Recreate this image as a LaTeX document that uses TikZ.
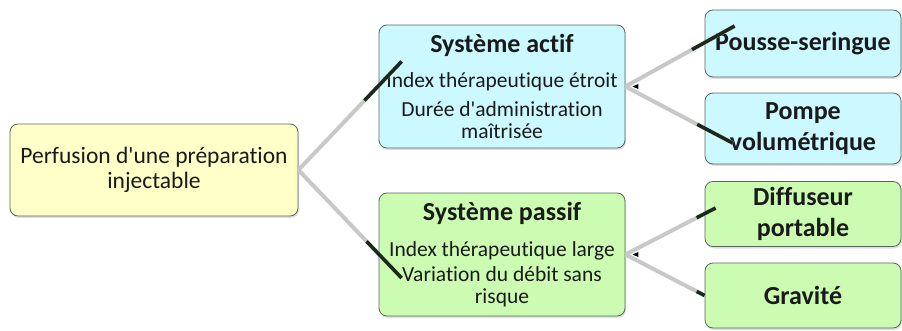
\documentclass[tikz,border=0pt]{standalone}
\usepackage{fontspec}
\setmainfont{Carlito}[Ligatures={TeXOff,NoCommon}]
\usepackage{xcolor}
\usetikzlibrary{positioning,calc,shadows}
\definecolor{rootfill}{HTML}{FFFFC8}
\definecolor{actfill}{HTML}{CCF8FF}
\definecolor{pasfill}{HTML}{CCFCB2}
\definecolor{boxline}{HTML}{56685C}
\definecolor{linkgray}{HTML}{C8C8C8}
\definecolor{tipdark}{HTML}{1A2A1A}
\definecolor{inkdark}{HTML}{1A1A1A}

\begin{document}
\begin{tikzpicture}[x=1pt,y=-1pt,
	box/.style={draw=boxline, line width=0.8pt, rounded corners=8pt, align=center, text=inkdark, inner sep=0pt,
		drop shadow={shadow xshift=1pt, shadow yshift=-2pt, opacity=0.25}},
	subbox/.style={box, minimum width=246pt, minimum height=123pt, font=\fontsize{21.5}{22}\selectfont},
	leafbox/.style={box, minimum width=196pt, font=\bfseries\fontsize{26}{31}\selectfont},
	link/.style={draw=linkgray, line width=4pt},
	linktip/.style={draw=tipdark, line width=3.5pt}]
	
	\useasboundingbox (0,0) rectangle (902,331);
	
	\node[box, fill=rootfill, minimum width=288pt, minimum height=92pt, font=\fontsize{23.5}{25}\selectfont] (root) at (154,170) {Perfusion d'une préparation\\injectable};
	
	\node[subbox, fill=actfill] (actif) at (502,86.5) {{\bfseries\fontsize{26}{30}\selectfont Système actif}\\[13pt]
		Index thérapeutique étroit\\[7pt]
		Durée d'administration\\maîtrisée};
	\node[subbox, fill=pasfill] (passif) at (502,254.5) {{\bfseries\fontsize{26}{30}\selectfont Système passif}\\[14pt]
		Index thérapeutique large\\[3pt]
		Variation du débit sans\\risque};
	
	\node[leafbox, fill=actfill, minimum height=67pt] (seringue) at (803,43.5) {Pousse-seringue};
	\node[leafbox, fill=actfill, minimum height=71pt] (pompe) at (803,128.5) {Pompe\\volumétrique};
	\node[leafbox, fill=pasfill, minimum height=65pt] (diffuseur) at (803,214) {Diffuseur\\portable};
	\node[leafbox, fill=pasfill, minimum height=65pt] (gravite) at (803,295.5) {Gravité};
	
	% connector ends
	\coordinate (aEnd) at ($(actif.west)+(23,-25)$);
	\coordinate (pEnd) at ($(passif.west)+(23,23.5)$);
	\coordinate (sEnd) at ($(seringue.west)+(30,-17.5)$);
	\coordinate (vEnd) at ($(pompe.west)+(28,14.5)$);
	\coordinate (dEnd) at ($(diffuseur.west)+(11,-6)$);
	\coordinate (gEnd) at (gravite.west);
	
	\draw[link] (root.east) -- (aEnd);
	\draw[link] (root.east) -- (pEnd);
	\draw[link] (actif.east) -- (sEnd);
	\draw[link] (actif.east) -- (vEnd);
	\draw[link] (passif.east) -- (dEnd);
	\draw[link] (passif.east) -- (gEnd);
	
	\draw[linktip] ($(root.east)!0.64!(aEnd)$) -- (aEnd);
	\draw[linktip] ($(root.east)!0.66!(pEnd)$) -- (pEnd);
	\draw[linktip] ($(actif.east)!0.61!(sEnd)$) -- (sEnd);
	\draw[linktip] ($(actif.east)!0.67!(vEnd)$) -- (vEnd);
	\draw[linktip] ($(passif.east)!0.79!(dEnd)$) -- (dEnd);
	\draw[linktip] ($(passif.east)!0.9!(gEnd)$) -- (gEnd);
	
	% small heads at the junctions
	\fill[black] ($(actif.east)+(7,0)$) -- ++(6,-2.5) -- ++(0,5) -- cycle;
	\fill[black] ($(passif.east)+(7,0)$) -- ++(6,-2.5) -- ++(0,5) -- cycle;
\end{tikzpicture}
\end{document}
